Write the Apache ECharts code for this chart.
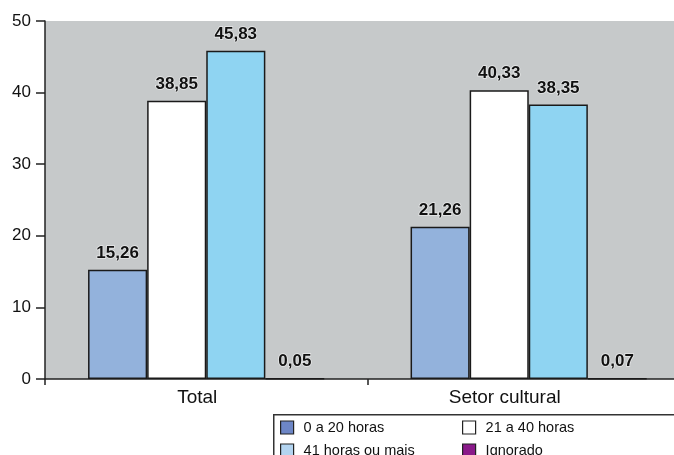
<!DOCTYPE html>
<html>
<head>
<meta charset="utf-8">
<script src="https://cdn.jsdelivr.net/npm/echarts@6/dist/echarts.min.js"></script>
<style>html,body{margin:0;padding:0;background:#fff;overflow:hidden;width:674px;height:455px;}#c{width:690px;height:455px;}</style>
</head>
<body>
<div id="c"></div>
<script>
const categories = ['Total', 'Setor cultural'];
const seriesNames = ['0 a 20 horas', '21 a 40 horas', '41 horas ou mais', 'Ignorado'];
const vals0a20 = [15.26, 21.26];
const vals21a40 = [38.85, 40.33];
const vals41mais = [45.83, 38.35];
const valsIgnorado = [0.05, 0.07];
const yTicks = [0, 10, 20, 30, 40, 50];

const barColors = ['#93b2dc', '#ffffff', '#8fd4f2', '#8a1a8a'];
const legendColors = ['#6d86c6', '#ffffff', '#b3d4f0', '#8a1a8a'];
const allVals = [vals0a20, vals21a40, vals41mais, valsIgnorado];
const FONT = 'Liberation Sans, Arial, sans-serif';

const chart = echarts.init(document.getElementById('c'), null, {renderer: 'canvas'});

const series = seriesNames.map((name, i) => ({
  name: name,
  type: 'bar',
  data: allVals[i],
  barGap: '0%',
  barCategoryGap: '26.7%',
  itemStyle: {color: barColors[i], borderColor: '#1a1a1a', borderWidth: 1.5},
  label: {
    show: true, position: 'top', distance: 8,
    fontFamily: FONT, fontWeight: 'bold', fontSize: 17, color: '#111',
    textBorderColor: 'rgba(255,255,255,0.6)', textBorderWidth: 1.5,
    formatter: p => p.value.toFixed(2).replace('.', ',')
  },
  emphasis: {disabled: true}
}));

function legendItem(i) {
  return {name: seriesNames[i], itemStyle: {color: legendColors[i], borderColor: '#222', borderWidth: 1.2}};
}
const legendBase = {
  orient: 'vertical', top: 420, height: 60, padding: 0, itemWidth: 13, itemHeight: 13, itemGap: 8,
  icon: 'rect', selectedMode: false,
  textStyle: {fontFamily: FONT, fontSize: 14.5, color: '#111', padding: [0, 0, 0, 5]}
};

chart.setOption({
  animation: false,
  backgroundColor: '#ffffff',
  grid: {left: 45, right: 0, top: 21, bottom: 76, show: true, backgroundColor: '#c6c9ca', borderWidth: 0},
  xAxis: {
    type: 'category',
    data: categories,
    axisLine: {show: true, lineStyle: {color: '#222', width: 1.5}},
    axisTick: {show: true, length: 6, lineStyle: {color: '#222', width: 1.5}},
    axisLabel: {
      margin: 9,
      formatter: v => v === categories[0] ? '{a|' + v + '}' : '{b|' + v + '}',
      rich: {
        a: {fontFamily: FONT, fontSize: 19, color: '#111', padding: [0, 18, 0, 0]},
        b: {fontFamily: FONT, fontSize: 19, color: '#111', padding: [0, 48, 0, 0]}
      }
    }
  },
  yAxis: {
    type: 'value', min: yTicks[0], max: yTicks[yTicks.length - 1], interval: 10,
    axisLine: {show: true, lineStyle: {color: '#222', width: 1.5}},
    axisTick: {show: true, length: 9, lineStyle: {color: '#222', width: 1.5}},
    splitLine: {show: false},
    axisLabel: {margin: 14, fontFamily: FONT, fontSize: 17, color: '#111'}
  },
  legend: [
    Object.assign({}, legendBase, {left: 280, data: [legendItem(0), legendItem(2)]}),
    Object.assign({}, legendBase, {left: 462, data: [legendItem(1), legendItem(3)]})
  ],
  graphic: [{
    type: 'rect', left: 273, top: 414, z: -1,
    shape: {width: 420, height: 60},
    style: {fill: '#ffffff', stroke: '#333', lineWidth: 1.5}
  }],
  series: series
});
</script>
</body>
</html>
